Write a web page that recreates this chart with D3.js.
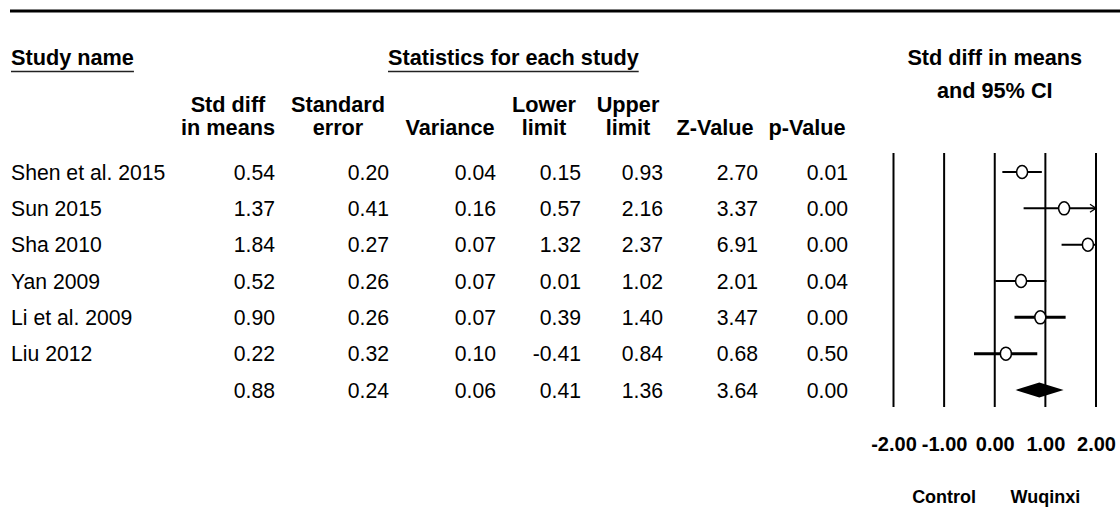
<!DOCTYPE html>
<html>
<head>
<meta charset="utf-8">
<script src="https://cdn.jsdelivr.net/npm/d3@7"></script>
<style>
  html, body { margin: 0; padding: 0; background: #fff; }
  svg { display: block; }
  text { font-family: "Liberation Sans", Arial, sans-serif; fill: #000; }
</style>
</head>
<body>
<script>
// ---------- data ----------
const studies   = ["Shen et al. 2015", "Sun 2015", "Sha 2010", "Yan 2009", "Li et al. 2009", "Liu 2012", ""];
const stdDiff   = [0.54, 1.37, 1.84, 0.52, 0.90, 0.22, 0.88];
const stdErr    = [0.20, 0.41, 0.27, 0.26, 0.26, 0.32, 0.24];
const variance  = [0.04, 0.16, 0.07, 0.07, 0.07, 0.10, 0.06];
const lowerLim  = [0.15, 0.57, 1.32, 0.01, 0.39, -0.41, 0.41];
const upperLim  = [0.93, 2.16, 2.37, 1.02, 1.40, 0.84, 1.36];
const zValue    = [2.70, 3.37, 6.91, 2.01, 3.47, 0.68, 3.64];
const pValue    = [0.01, 0.00, 0.00, 0.04, 0.00, 0.50, 0.00];
const isSummary = [false, false, false, false, false, false, true];
const headLine1 = ["Std diff", "Standard", "", "Lower", "Upper", "", ""];
const headLine2 = ["in means", "error", "Variance", "limit", "limit", "Z-Value", "p-Value"];
const axisTicks = [-2, -1, 0, 1, 2];
const sideLabels = ["Control", "Wuqinxi"];
const sideAt     = [-1, 1];

// ---------- layout ----------
const W = 1120, H = 515;
const svg = d3.select("body").append("svg").attr("width", W).attr("height", H);

const loc = d3.formatLocale({decimal: ".", thousands: ",", grouping: [3], currency: ["", ""], minus: "-"});
const f2 = loc.format(".2f");

const columns = [stdDiff, stdErr, variance, lowerLim, upperLim, zValue, pValue];
const colIdx = d3.range(columns.length);
const xValRight = d3.scaleOrdinal().domain(colIdx).range([275, 389, 496, 581, 663, 758, 848]);
const xHeadCenter = d3.scaleOrdinal().domain(colIdx).range([228, 338, 450, 544, 628, 715, 807]);

const rows = d3.range(studies.length);
const y = d3.scaleLinear().domain([0, studies.length - 1]).range([172, 390]);
const x = d3.scaleLinear().domain([-2, 2]).range([893.5, 1096]);
const baseOff = 7.8;

// top rule
svg.append("line").attr("x1", 10).attr("x2", W).attr("y1", 11).attr("y2", 11)
  .attr("stroke", "#000").attr("stroke-width", 3);

// section headers
const hdrSize = 21.7;
function underlined(txt, x0, yb) {
  const t = svg.append("text").attr("x", x0).attr("y", yb)
    .attr("font-size", hdrSize).attr("font-weight", "bold").text(txt);
  const w = t.node().getComputedTextLength();
  svg.append("line").attr("x1", x0).attr("x2", x0 + w).attr("y1", yb + 6.5).attr("y2", yb + 6.5)
    .attr("stroke", "#222").attr("stroke-width", 1.5);
}
underlined("Study name", 11, 65);
underlined("Statistics for each study", 388, 65);

svg.append("text").attr("x", x(0)).attr("y", 65).attr("text-anchor", "middle")
  .attr("font-size", hdrSize).attr("font-weight", "bold").text("Std diff in means");
svg.append("text").attr("x", x(0)).attr("y", 98).attr("text-anchor", "middle")
  .attr("font-size", hdrSize).attr("font-weight", "bold").text("and 95% CI");

// column headers
const ch = svg.append("g").attr("font-size", hdrSize).attr("font-weight", "bold").attr("text-anchor", "middle");
ch.selectAll("text.h1").data(colIdx).join("text").attr("class", "h1")
  .attr("x", d => xHeadCenter(d)).attr("y", 112).text(d => headLine1[d]);
ch.selectAll("text.h2").data(colIdx).join("text").attr("class", "h2")
  .attr("x", d => xHeadCenter(d)).attr("y", 135).text(d => headLine2[d]);

// study names
svg.append("g").attr("font-size", 21.2).selectAll("text").data(rows).join("text")
  .attr("x", 11).attr("y", d => y(d) + baseOff).text(d => studies[d]);

// values
colIdx.forEach(c => {
  svg.append("g").attr("font-size", 21.2).attr("text-anchor", "end")
    .selectAll("text").data(rows).join("text")
    .attr("x", xValRight(c)).attr("y", d => y(d) + baseOff)
    .text(d => f2(columns[c][d]));
});

// forest plot reference lines
svg.append("g").selectAll("line").data(axisTicks).join("line")
  .attr("x1", d => x(d)).attr("x2", d => x(d)).attr("y1", 153).attr("y2", 407)
  .attr("stroke", "#000").attr("stroke-width", 2);

// CI lines
const ciWidth = [2, 2, 2, 2.2, 3, 3];
const [dMin, dMax] = x.domain();
const studyRows = rows.filter(i => !isSummary[i]);
const g = svg.append("g");
g.selectAll("line.ci").data(studyRows).join("line").attr("class", "ci")
  .attr("x1", d => x(Math.max(dMin, lowerLim[d]))).attr("x2", d => x(Math.min(dMax, upperLim[d])))
  .attr("y1", d => y(d)).attr("y2", d => y(d))
  .attr("stroke", "#000").attr("stroke-width", d => ciWidth[d]);

// arrows where CI is clipped (only if visible beyond the marker)
const clipped = studyRows.filter(d => upperLim[d] > dMax && x(dMax) - x(stdDiff[d]) > 14);
g.selectAll("path.arrow").data(clipped).join("path").attr("class", "arrow")
  .attr("d", d => `M${x(dMax) - 6},${y(d) - 4} L${x(dMax)},${y(d)} L${x(dMax) - 6},${y(d) + 4}`)
  .attr("fill", "none").attr("stroke", "#000").attr("stroke-width", 1.3);

// point estimates
g.selectAll("ellipse").data(studyRows).join("ellipse")
  .attr("cx", d => x(stdDiff[d])).attr("cy", d => y(d)).attr("rx", 5.5).attr("ry", 6.5)
  .attr("fill", "#fff").attr("stroke", "#000").attr("stroke-width", 1.5);

// summary diamond
const sumRows = rows.filter(i => isSummary[i]);
g.selectAll("path.diamond").data(sumRows).join("path").attr("class", "diamond")
  .attr("d", d => `M${x(lowerLim[d])},${y(d)} L${x(stdDiff[d])},${y(d) - 7.5} L${x(upperLim[d])},${y(d)} L${x(stdDiff[d])},${y(d) + 7.5} Z`)
  .attr("fill", "#000");

// axis labels
const axis = d3.axisBottom(x).tickValues(axisTicks).tickSize(0).tickPadding(0).tickFormat(f2);
const ax = svg.append("g").attr("transform", "translate(0,437)").call(axis);
ax.select(".domain").remove();
ax.selectAll("text").attr("font-size", 20).attr("font-weight", "bold")
  .attr("font-family", "'Liberation Sans', Arial, sans-serif").attr("fill", "#000");

// side labels
svg.append("g").attr("font-size", 18).attr("font-weight", "bold").attr("text-anchor", "middle")
  .selectAll("text").data(sideLabels).join("text")
  .attr("x", (d, i) => x(sideAt[i])).attr("y", 503).text(d => d);
</script>
</body>
</html>
